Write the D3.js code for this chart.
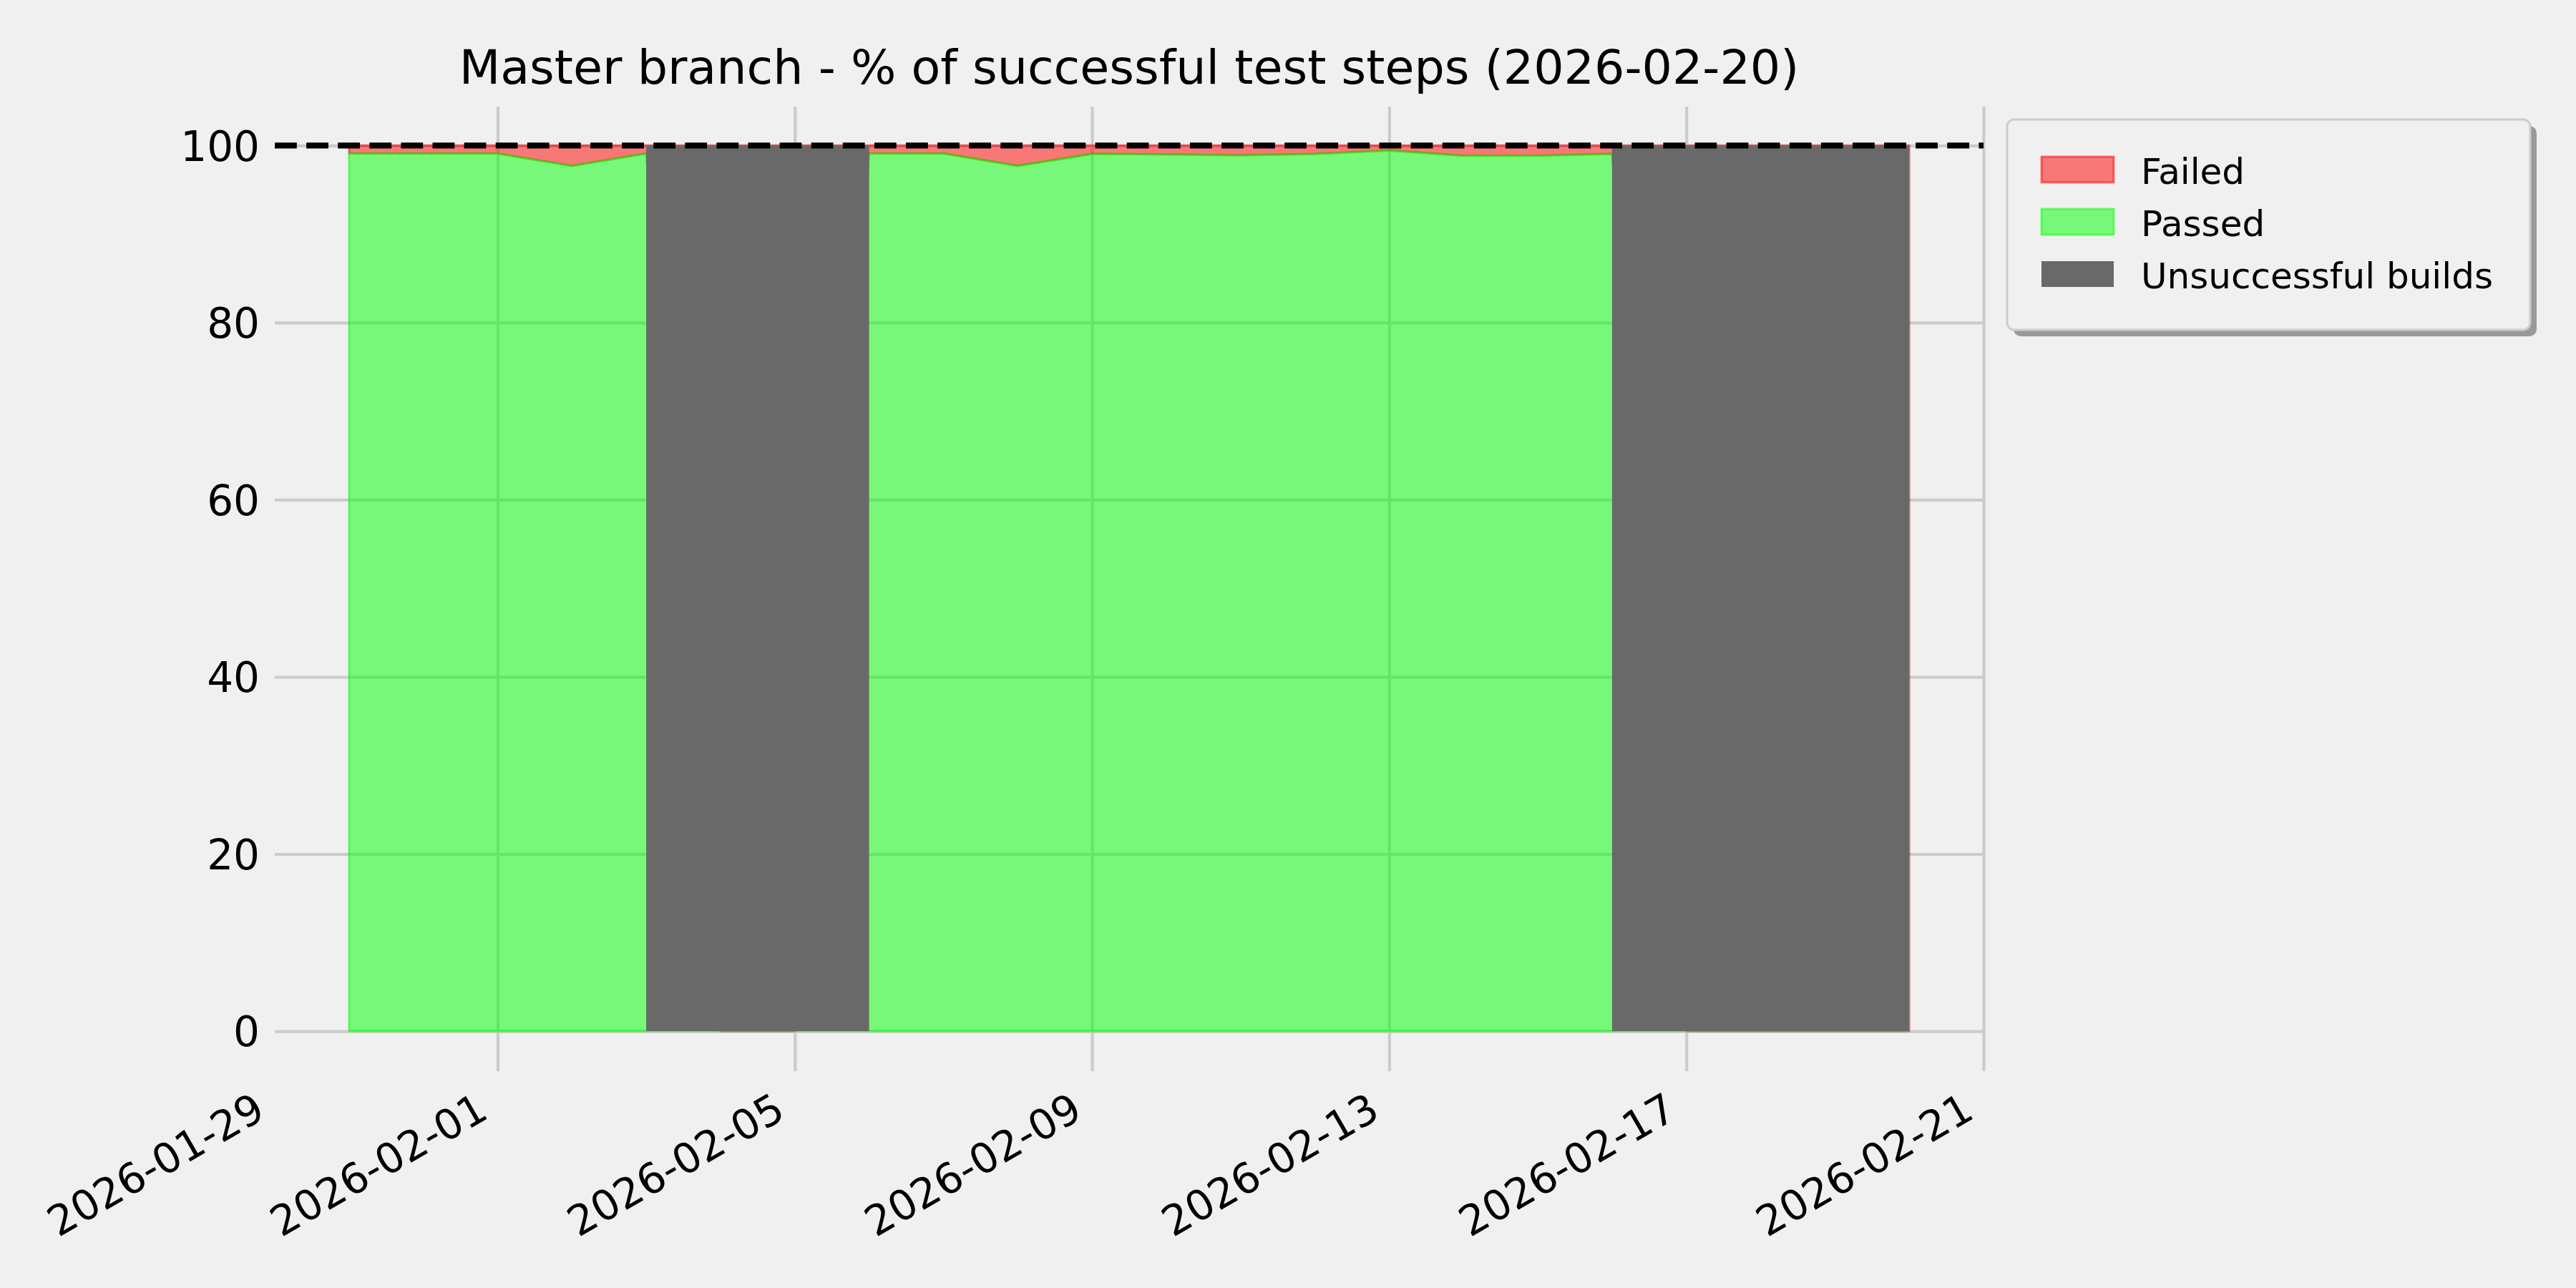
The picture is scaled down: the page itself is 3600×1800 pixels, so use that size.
<!DOCTYPE html>
<html>
<head>
<meta charset="utf-8">
<script src="https://cdn.jsdelivr.net/npm/d3@7"></script>
<style>
  body { margin: 0; background: #f0f0f0; }
  svg text { font-family: "DejaVu Sans", sans-serif; fill: #000; }
</style>
</head>
<body>
<div id="chart"></div>
<script>
/**
 * DATA
 * */
const dates = ["2026-01-30","2026-01-31","2026-02-01","2026-02-02","2026-02-03","2026-02-04",
  "2026-02-05","2026-02-06","2026-02-07","2026-02-08","2026-02-09","2026-02-10","2026-02-11",
  "2026-02-12","2026-02-13","2026-02-14","2026-02-15","2026-02-16","2026-02-17","2026-02-18",
  "2026-02-19","2026-02-20"];
// days with a broken build have no passed steps
const passed = [99.1, 99.1, 99.1, 97.7, 99.1, 0, 0, 99.1, 99.1, 97.7, 99.05, 99.0, 98.9,
  99.05, 99.45, 98.85, 98.85, 99.05, 0, 0, 0, 0];
const failed = [0.9, 0.9, 0.9, 2.3, 0.9, 100, 100, 0.9, 0.9, 2.3, 0.95, 1.0, 1.1,
  0.95, 0.55, 1.15, 1.15, 0.95, 100, 100, 100, 100];
const unsuccessfulStart = ["2026-02-03", "2026-02-16"];
const unsuccessfulEnd = ["2026-02-06", "2026-02-20"];
const xTicks = ["2026-01-29","2026-02-01","2026-02-05","2026-02-09","2026-02-13","2026-02-17","2026-02-21"];
const yTicks = [0, 20, 40, 60, 80, 100];
const legendLabels = ["Failed", "Passed", "Unsuccessful builds"];
const titleText = "Master branch - % of successful test steps (2026-02-20)";

/**
 * CONSTANTS
 * */
const width = 3600, height = 1800;
const plot = { left: 384, right: 2772, top: 149, bottom: 1497 };
const parse = d3.utcParse("%Y-%m-%d");
const gridColor = "#cbcbcb";

const rows = dates.map((d, i) => ({ date: parse(d), passed: passed[i], failed: failed[i] }));

const svg = d3.select("#chart").append("svg")
  .attr("width", width)
  .attr("height", height);

svg.append("rect").attr("width", width).attr("height", height).attr("fill", "#f0f0f0");

const xScale = d3.scaleUtc()
  .domain([parse("2026-01-29"), parse("2026-02-21")])
  .range([plot.left, plot.right]);

const yScale = d3.scaleLinear()
  .domain([-4.52, 104.39])
  .range([plot.bottom, plot.top]);

/**
 * AXES + GRID
 * */
const yAxis = d3.axisLeft(yScale)
  .tickValues(yTicks)
  .tickSize(-(plot.right - plot.left))
  .tickPadding(21);

const yG = svg.append("g")
  .attr("transform", `translate(${plot.left},0)`)
  .call(yAxis);
yG.select(".domain").remove();
yG.selectAll(".tick line").attr("stroke", gridColor).attr("stroke-width", 4.17);
yG.selectAll(".tick text")
  .attr("dy", "0.36em")
  .style("font-size", "58px")
  .style("font-family", "DejaVu Sans");

const xAxis = d3.axisBottom(xScale)
  .tickValues(xTicks.map(parse))
  .tickFormat(d3.utcFormat("%Y-%m-%d"))
  .tickSize(-(plot.bottom - plot.top));

const xG = svg.append("g")
  .attr("transform", `translate(0,${plot.bottom})`)
  .call(xAxis);
xG.select(".domain").remove();
xG.selectAll(".tick line").attr("stroke", gridColor).attr("stroke-width", 4.17);
xG.selectAll(".tick line").filter(d => +d === +xScale.domain()[0]).remove();
xG.selectAll(".tick text")
  .attr("x", -11)
  .attr("y", 64)
  .attr("dy", null)
  .attr("text-anchor", "end")
  .attr("transform", "rotate(-30,-11,64)")
  .style("font-size", "58px")
  .style("font-family", "DejaVu Sans");

/**
 * STACKED AREAS  (failed drawn first, passed on top)
 * */
const failedArea = d3.area()
  .x(d => xScale(d.date))
  .y0(d => yScale(d.passed))
  .y1(d => yScale(d.passed + d.failed));

const passedArea = d3.area()
  .x(d => xScale(d.date))
  .y0(() => yScale(0))
  .y1(d => yScale(d.passed));

svg.append("path")
  .datum(rows)
  .attr("d", failedArea)
  .attr("fill", "#ff0000").attr("fill-opacity", 0.5)
  .attr("stroke", "#ff0000").attr("stroke-opacity", 0.5)
  .attr("stroke-width", 3)
  .attr("stroke-linejoin", "round");

svg.append("path")
  .datum(rows)
  .attr("d", passedArea)
  .attr("fill", "#00ff00").attr("fill-opacity", 0.5)
  .attr("stroke", "#00ff00").attr("stroke-opacity", 0.5)
  .attr("stroke-width", 3)
  .attr("stroke-linejoin", "round");

// unsuccessful builds
svg.selectAll("rect.unsuccessful")
  .data(unsuccessfulStart.map((s, i) => ({ start: parse(s), end: parse(unsuccessfulEnd[i]) })))
  .join("rect")
  .attr("class", "unsuccessful")
  .attr("x", d => xScale(d.start))
  .attr("width", d => xScale(d.end) - xScale(d.start))
  .attr("y", yScale(100))
  .attr("height", yScale(0) - yScale(100))
  .attr("fill", "#696969");

// 100% reference
svg.append("line")
  .attr("x1", plot.left).attr("x2", plot.right)
  .attr("y1", yScale(100)).attr("y2", yScale(100))
  .attr("stroke", "#000")
  .attr("stroke-width", 8.3)
  .attr("stroke-dasharray", "30.8 13.3");

/**
 * TITLE
 * */
svg.append("text")
  .attr("x", (plot.left + plot.right) / 2)
  .attr("y", 117)
  .attr("text-anchor", "middle")
  .style("font-size", "66.7px")
  .text(titleText);

/**
 * LEGEND
 * */
const legend = svg.append("g").attr("transform", "translate(2805,167)");
legend.append("rect")
  .attr("x", 9).attr("y", 9).attr("width", 731).attr("height", 294)
  .attr("rx", 10).attr("fill", "#999999");
legend.append("rect")
  .attr("width", 731).attr("height", 294)
  .attr("rx", 10).attr("fill", "#f0f0f0")
  .attr("stroke", "#cccccc").attr("stroke-width", 3);

const legendStyle = [
  { fill: "#ff0000", op: 0.5, stroke: "#ff0000" },
  { fill: "#00ff00", op: 0.5, stroke: "#00ff00" },
  { fill: "#696969", op: 1, stroke: "none" }
];

const items = legend.selectAll("g.item")
  .data(legendLabels)
  .join("g")
  .attr("class", "item")
  .attr("transform", (d, i) => `translate(0,${i * 73})`);

items.append("rect")
  .attr("x", 48).attr("y", 52).attr("width", 101).attr("height", 36)
  .attr("fill", (d, i) => legendStyle[i].fill)
  .attr("fill-opacity", (d, i) => legendStyle[i].op)
  .attr("stroke", (d, i) => legendStyle[i].stroke)
  .attr("stroke-opacity", 0.5)
  .attr("stroke-width", 3);

items.append("text")
  .attr("x", 187).attr("y", 90)
  .style("font-size", "50px")
  .text(d => d);
</script>
</body>
</html>
